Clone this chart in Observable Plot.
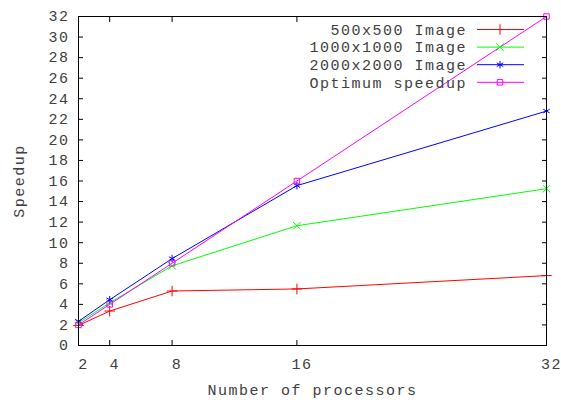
<!DOCTYPE html>
<html><head><meta charset="utf-8">
<script src="https://cdn.jsdelivr.net/npm/d3@7"></script>
<script src="https://cdn.jsdelivr.net/npm/@observablehq/plot@0.6"></script>
<style>
body{margin:0;background:#fff}
svg{font-family:"Liberation Mono",monospace;font-size:15px;letter-spacing:1.5px}
</style></head><body><div id="chart"></div>
<script>
const procs = [2, 4, 8, 16, 32];
const s500 = [1.95, 3.35, 5.3, 5.5, 6.8];
const s1000 = [2.2, 4.15, 7.75, 11.65, 15.25];
const s2000 = [2.35, 4.45, 8.45, 15.55, 22.8];
const sOpt = [2, 4, 8, 16, 32];
const seriesNames = ["500x500 Image", "1000x1000 Image", "2000x2000 Image", "Optimum speedup"];
const seriesColors = ["#ff0000", "#00ff00", "#0000ff", "#ff00ff"];
const seriesSymbols = ["plus", "times", "asterisk", "square2"];
const seriesValues = [s500, s1000, s2000, sOpt];
const xTicks = [2, 4, 8, 16, 32];
const yTicks = d3.range(0, 33, 2);

const data = seriesValues.flatMap((vals, i) => vals.map((v, j) => ({x: procs[j], y: v, s: seriesNames[i], i})));
const symbolMap = {plus: d3.symbolPlus, times: d3.symbolTimes, asterisk: d3.symbolAsterisk, square2: d3.symbolSquare2};
const R = 3.5;
const textColor = "#404040";

function legend(index, scales, values, dims) {
  const g = d3.create("svg:g");
  const xr = dims.width - dims.marginRight;
  const yt = dims.marginTop;
  seriesNames.forEach((name, i) => {
    const cy = yt + 13.5 + i * 17.6;
    g.append("text").attr("x", xr - 79).attr("y", cy).attr("dy", "0.35em")
      .attr("text-anchor", "end").attr("fill", textColor).text(name);
    g.append("line").attr("x1", xr - 69).attr("x2", xr - 22).attr("y1", cy).attr("y2", cy)
      .attr("stroke", seriesColors[i]).attr("stroke-width", 1);
    g.append("path").attr("transform", `translate(${xr - 46},${cy})`)
      .attr("d", d3.symbol(symbolMap[seriesSymbols[i]], Math.PI * R * R)())
      .attr("fill", "none").attr("stroke", seriesColors[i]).attr("stroke-width", 1);
  });
  return g.node();
}

const plot = Plot.plot({
  width: 561, height: 404,
  marginLeft: 78, marginRight: 15, marginTop: 16, marginBottom: 59,
  x: {domain: [2, 32]},
  y: {domain: [0, 32]},
  marks: [
    Plot.axisY(yTicks, {anchor: "left", tickSize: 0, tickPadding: 9, fill: textColor, label: "Speedup", labelArrow: "none", labelAnchor: "center", labelOffset: 65}),
    Plot.axisY(yTicks, {anchor: "left", tickSize: -5, tickFormat: () => "", label: null, stroke: "black"}),
    Plot.axisY(yTicks, {anchor: "right", tickSize: -5, tickFormat: () => "", label: null, stroke: "black"}),
    Plot.axisX(xTicks, {anchor: "bottom", tickSize: 0, tickPadding: 13, dx: 5, fill: textColor, label: "Number of processors", labelArrow: "none", labelAnchor: "center", labelOffset: 49}),
    Plot.axisX(xTicks, {anchor: "bottom", tickSize: -5, tickFormat: () => "", label: null, stroke: "black"}),
    Plot.axisX(xTicks, {anchor: "top", tickSize: -5, tickFormat: () => "", label: null, stroke: "black"}),
    Plot.line(data, {x: "x", y: "y", z: "s", stroke: d => seriesColors[d.i], strokeWidth: 1}),
    Plot.dot(data, {x: "x", y: "y", symbol: d => seriesSymbols[d.i], stroke: d => seriesColors[d.i], fill: "none", r: R, strokeWidth: 1}),
    Plot.frame({stroke: "black", strokeWidth: 1}),
    legend
  ]
});
document.getElementById("chart").append(plot);
</script></body></html>
